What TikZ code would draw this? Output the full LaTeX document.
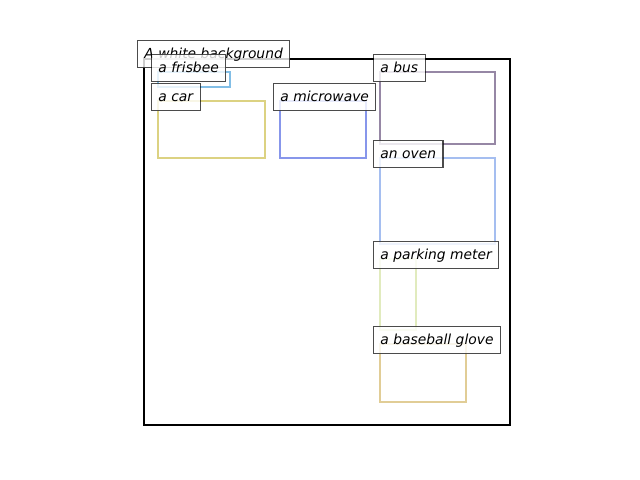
\documentclass[tikz,border=0pt]{standalone}
\usepackage{fontspec}
\setmainfont{DejaVu Sans}
\usepackage{tikz}

\definecolor{frisbeecol}{RGB}{130,190,230}
\definecolor{carcol}{RGB}{220,210,130}
\definecolor{microcol}{RGB}{135,150,235}
\definecolor{buscol}{RGB}{150,135,165}
\definecolor{ovencol}{RGB}{165,190,240}
\definecolor{metercol}{RGB}{225,235,190}
\definecolor{glovecol}{RGB}{225,205,150}

\tikzset{
  tag/.style={draw=black, draw opacity=0.7, fill=white, fill opacity=0.8, text opacity=1,
    anchor=west, inner xsep=5pt, inner ysep=5pt, text height=8pt, text depth=2pt,
    font=\itshape, line width=0.8pt},
  bbox/.style={line width=1.8pt}
}

\begin{document}
\begin{tikzpicture}[x=0.01in, y=-0.01in]
  \useasboundingbox (0,0) rectangle (640,480);
  % background
  \draw [line width=1.6pt] (144,59) rectangle (510,425);
  \node [tag] (bg) at (137,54) {A white background};
  % frisbee
  \draw [bbox, frisbeecol] (158,72) rectangle (230,87);
  \node [tag] (frisbee) at (151,68) {a frisbee};
  % car
  \draw [bbox, carcol] (158,101) rectangle (265,158);
  \node [tag] (car) at (151,97) {a car};
  % microwave
  \draw [bbox, microcol] (280,101) rectangle (366,158);
  \node [tag] (microwave) at (273,97) {a microwave};
  % bus
  \draw [bbox, buscol] (380,72) rectangle (495,144);
  \node [tag] (bus) at (373,68) {a bus};
  % oven
  \draw [bbox, ovencol] (380,158) rectangle (495,244);
  \node [tag] (oven) at (373,154) {an oven};
  % parking meter
  \draw [bbox, metercol] (380,259) rectangle (416,330);
  \node [tag] (meter) at (373,255) {a parking meter};
  % baseball glove
  \draw [bbox, glovecol] (380,344) rectangle (466,402);
  \node [tag] (glove) at (373,340) {a baseball glove};
\end{tikzpicture}
\end{document}
